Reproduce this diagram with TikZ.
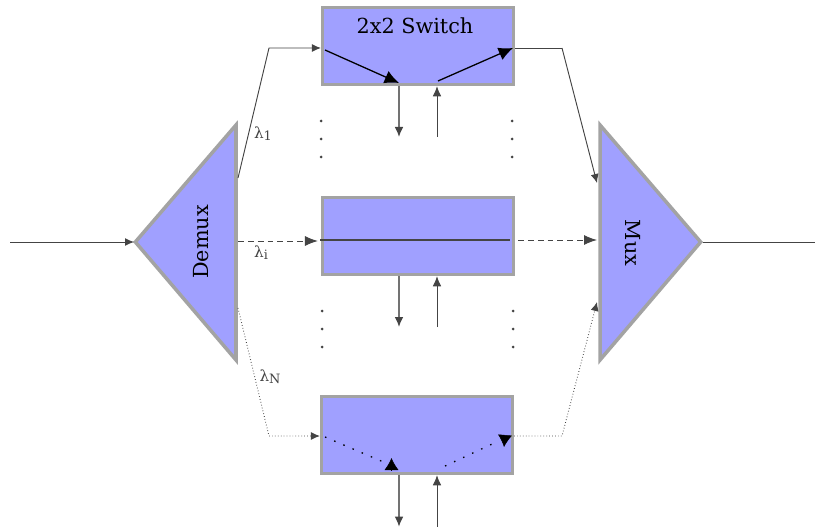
\documentclass[tikz,border=0pt]{standalone}
\usepackage{fontspec}
\setmainfont{DejaVu Serif}
\usetikzlibrary{arrows.meta}
\definecolor{kblue}{HTML}{A0A0FF}
\definecolor{kgray}{HTML}{A3A3A3}
\definecolor{kwire}{HTML}{444444}
\tikzset{
  switchbox/.style={draw=kgray, fill=kblue, line width=3pt, minimum width=5.72cm, minimum height=2.31cm, inner sep=0pt},
  muxshape/.style={draw=kgray, fill=kblue, line width=3pt, line join=miter},
  muxlabel/.style={font=\fontsize{17.7}{20}\selectfont, inner sep=0pt},
  lamlabel/.style={font=\fontsize{13}{15}\selectfont, text=kwire, inner sep=0pt},
  dotmark/.style={circle, fill=kwire, minimum size=0.09cm, inner sep=0pt},
  wire/.style={draw=kwire, line width=0.8pt},
  flow/.style={wire, -{Latex[length=2.7mm, width=2.4mm]}},
  bigflow/.style={wire, -{Latex[length=3.9mm, width=3mm]}},
  portdown/.style={wire, draw=kwire!75, line width=1.1pt, -{Latex[length=3mm, width=2.6mm, color=kwire]}},
  portup/.style={wire, -{Latex[length=3mm, width=2.6mm]}},
  inner/.style={draw=black, line width=1.1pt},
  innerflow/.style={inner, -{Latex[length=4.3mm, width=4mm]}},
  innertip/.style={draw=black, line width=0.4pt, -{Latex[length=3.6mm, width=4.2mm]}},
  dashwire/.style={dash pattern=on 5pt off 3.4pt},
  dotwire/.style={dash pattern=on 0.6pt off 1.9pt},
  innerdots/.style={dash pattern=on 1.3pt off 7.2pt},
}
\begin{document}
\begin{tikzpicture}
    \clip (0,0) rectangle (24.45,15.78);
    % demux and mux
    \coordinate (demuxtip) at (4.06,8.52);
    \coordinate (demuxtop) at (7.08,12.03);
    \coordinate (demuxbot) at (7.08,4.98);
    \coordinate (muxtip) at (21.02,8.52);
    \coordinate (muxtop) at (18.00,12.03);
    \coordinate (muxbot) at (18.00,4.98);
    \draw[muxshape] (demuxtip) -- (demuxtop) -- (demuxbot) -- cycle;
    \draw[muxshape] (muxtip) -- (muxtop) -- (muxbot) -- cycle;
    \node[muxlabel, rotate=90] (demux) at (6.03,8.52) {Demux};
    \node[muxlabel, rotate=-90] (mux) at (18.99,8.49) {Mux};
    % switches
    \node[switchbox] (switch1) at (12.54,14.40) {};
    \node[switchbox] (switch2) at (12.54,8.70) {};
    \node[switchbox] (switch3) at (12.51,2.73) {};
    \node[muxlabel] (title) at (12.45,15.00) {2x2 Switch};
    % free ends of the wires
    \coordinate (input) at (0.30,8.52);
    \coordinate (output) at (24.72,8.52);
    \coordinate (out1) at (7.14,10.44);
    \coordinate (outi) at (7.14,8.55);
    \coordinate (outn) at (7.14,6.54);
    \coordinate (bend1) at (8.07,14.34);
    \coordinate (bendn) at (8.07,2.70);
    \coordinate (back1) at (16.86,14.34);
    \coordinate (backn) at (16.86,2.70);
    \coordinate (in1) at (17.91,10.29);
    \coordinate (ini) at (17.91,8.58);
    \coordinate (inn) at (17.91,6.72);
    \draw[flow, shorten >=0.04cm] (input) -- (demuxtip);
    \draw[flow, shorten <=0.06cm] (muxtip) -- (output);
    \draw[flow] (out1) -- (bend1) -- (bend1 -| switch1.west);
    \draw[wire] (bend1 -| switch1.east) -- (back1);
    \draw[flow] (back1) -- (in1);
    \draw[bigflow, dashwire, shorten >=0.09cm] (outi) -- (outi -| switch2.west);
    \draw[bigflow, dashwire, shorten <=0.09cm] (ini -| switch2.east) -- (ini);
    \draw[wire, line width=1pt] (9.60,8.58) -- (15.30,8.58);
    \draw[flow, dotwire] (outn) -- (bendn) -- (bendn -| switch3.west);
    \draw[flow, dotwire] (bendn -| switch3.east) -- (backn) -- (inn);
    % paths inside the switches
    \draw[innerflow] (9.75,14.28) -- (11.97,13.29);
    \draw[innerflow] (13.14,13.35) -- (15.39,14.34);
    \draw[inner, innerdots] (9.75,2.67) -- (11.55,1.90);
    \draw[inner, innerdots] (13.35,1.80) -- (14.85,2.50);
    \draw[innertip] (11.745,1.68) -- (11.745,2.04);
    \draw[innertip] (15.15,2.73) -- (15.12,2.37);
    % add and drop ports
    \foreach \name/\endy in {switch1/11.67, switch2/5.97, switch3/-0.02} {
      \coordinate (\name down) at (11.97,\endy);
      \coordinate (\name up) at (13.11,\endy);
      \draw[portdown] (\name down |- \name.south) -- (\name down);
      \draw[portup] (\name up) -- (\name up |- \name.south);
    }
    % dots between the switches
    \foreach \y [count=\i] in {12.15,11.61,11.07} {
      \node[dotmark] (dotl\i) at (9.63,\y) {};
      \node[dotmark] (dotr\i) at (15.36,\y) {};
    }
    \foreach \y [count=\i] in {6.45,5.91,5.37} {
      \node[dotmark] (dotm\i) at (9.66,\y) {};
      \node[dotmark] (dotn\i) at (15.39,\y) {};
    }
    \node[lamlabel] (lam1) at (7.89,11.76) {λ\raisebox{-0.25ex}{\fontsize{11}{13}\selectfont 1}};
    \node[lamlabel] (lami) at (7.83,8.19) {λ\raisebox{-0.25ex}{\fontsize{11}{13}\selectfont i}};
    \node[lamlabel] (lamn) at (8.10,4.47) {λ\raisebox{-0.25ex}{\fontsize{11}{13}\selectfont N}};
\end{tikzpicture}
\end{document}
